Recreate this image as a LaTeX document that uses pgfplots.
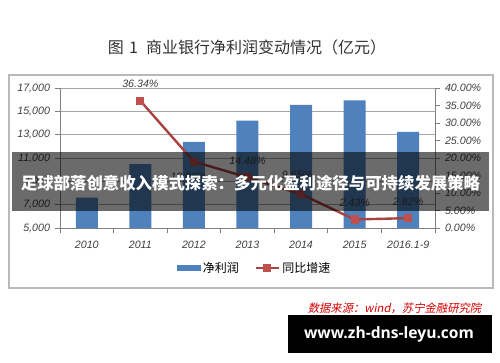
\documentclass[border=0pt]{standalone}
\usepackage{pgfplots}
\pgfplotsset{compat=1.18}
\usepackage{fontspec}
\setmainfont{Liberation Sans}
\newfontfamily\cjk{Noto Sans CJK SC}
\newfontfamily\cjkit[FakeSlant=0.2]{Noto Sans CJK SC}
\newfontfamily\osans{Open Sans}
\definecolor{barblue}{HTML}{4F81BD}
\definecolor{linered}{HTML}{A9433F}
\definecolor{markred}{HTML}{C0504D}
\definecolor{gridgray}{HTML}{A6A6A6}
\definecolor{ticktext}{HTML}{404040}
\begin{document}
\begin{tikzpicture}
\path[use as bounding box, fill=white] (0,0) rectangle (375pt,271.5pt);
\begin{scope}[x=0.75pt,y=-0.75pt,yshift=271.5pt]
\draw[color=gray!55, line width=0.8pt] (9,75) rectangle (493,288);
\node[font=\cjk\fontsize{12}{14}\selectfont, text=black!80] at (247,47) {图\hspace{4pt}1\hspace{6pt}商业银行净利润变动情况（亿元）};
\end{scope}
\begin{axis}[at={(45pt,100.5pt)}, anchor=south west, scale only axis,
  width=281.25pt, height=105pt,
  xmin=-0.5, xmax=6.5, ymin=5000, ymax=17000,
  ytick={5000,7000,...,17000},
  scaled y ticks=false,
  xtick={0,...,6}, xticklabels={2010,2011,2012,2013,2014,2015,2016.1-9},
  minor xtick={-0.5,0.5,...,6.5},
  major x tick style={draw=none},
  minor x tick style={draw=gray, line width=0.6pt},
  minor tick length=4pt,
  axis x line*=bottom, axis y line*=left,
  axis line style={draw=gray, line width=0.6pt},
  y tick style={draw=gray, line width=0.6pt},
  major tick length=4pt,
  tick align=outside,
  ymajorgrids, grid style={gridgray, line width=0.6pt},
  /pgf/number format/assume math mode=true,
  /pgf/number format/1000 sep={,},
  ticklabel style={font=\itshape\fontsize{8}{9}\selectfont, text=ticktext},
  xticklabel style={yshift=-2pt},
  clip=false,
]
\addplot[ybar, bar width=16.5pt, fill=barblue, draw=none] coordinates {(0,7600)(1,10470)(2,12380)(3,14200)(4,15550)(5,15930)(6,13250)};
\end{axis}
\begin{axis}[at={(45pt,100.5pt)}, anchor=south west, scale only axis,
  width=281.25pt, height=105pt,
  xmin=-0.5, xmax=6.5, ymin=0, ymax=40,
  ytick={0,5,...,40},
  axis x line=none, axis y line*=right,
  axis line style={draw=gray, line width=0.6pt},
  y tick style={draw=gray, line width=0.6pt},
  major tick length=4pt, tick align=outside,
  /pgf/number format/assume math mode=true,
  yticklabel={\pgfmathprintnumber[fixed,fixed zerofill,precision=2]{\tick}\%},
  ticklabel style={font=\itshape\fontsize{8}{9}\selectfont, text=ticktext},
  legend style={at={(0.52,-0.286)}, anchor=center, draw=none, fill=none,
    legend columns=2, font=\cjk\fontsize{9}{10}\selectfont,
    /tikz/every even column/.append style={column sep=10pt}},
  legend image code/.code={},
  clip=false,
]
\addlegendimage{legend image code/.code={\fill[barblue] (0pt,-2pt) rectangle (17pt,2pt);}}
\addlegendentry{净利润}
\addplot[linered, line width=1.8pt, mark=square*, mark size=2.2pt, mark options={fill=markred, draw=markred},
  legend image code/.code={\draw[linered, line width=1.5pt] (0pt,0pt) -- (17pt,0pt); \fill[markred] (6.5pt,-2pt) rectangle (10.5pt,2pt);}]
  coordinates {(1,36.34)(2,18.96)(3,14.48)(4,9.65)(5,2.43)(6,2.82)};
\addlegendentry{同比增速}
\begin{scope}[every node/.style={font=\itshape\fontsize{8}{9}\selectfont, text=ticktext}]
\node[above=6pt] at (axis cs:1,36.34) {36.34\%};
\node[below=5pt, xshift=-4pt] at (axis cs:2,18.96) {18.96\%};
\node[above=6pt] at (axis cs:3,14.48) {14.48\%};
\node[above=8pt, xshift=-3pt] at (axis cs:4,9.65) {9.65\%};
\node[above=6pt] at (axis cs:5,2.43) {2.43\%};
\node[above=6pt] at (axis cs:6,2.82) {2.82\%};
\end{scope}
\end{axis}
\begin{scope}[x=0.75pt,y=-0.75pt,yshift=271.5pt]
\fill[black, opacity=0.58] (12,152) rectangle (489,211);
\node[font=\cjk\bfseries\fontsize{12.3}{14}\selectfont, text=white] at (250.5,183) {足球部落创意收入模式探索：多元化盈利途径与可持续发展策略};
\node[font=\cjkit\fontsize{8.5}{10}\selectfont, text=red!85!black, anchor=east] at (486,308) {数据来源：wind，苏宁金融研究院};
\fill[black] (288,315) rectangle (492,353);
\node[font=\osans\bfseries\fontsize{11.7}{14}\selectfont, text=white] at (389,334) {www.zh-dns-leyu.com};
\end{scope}
\end{tikzpicture}
\end{document}
